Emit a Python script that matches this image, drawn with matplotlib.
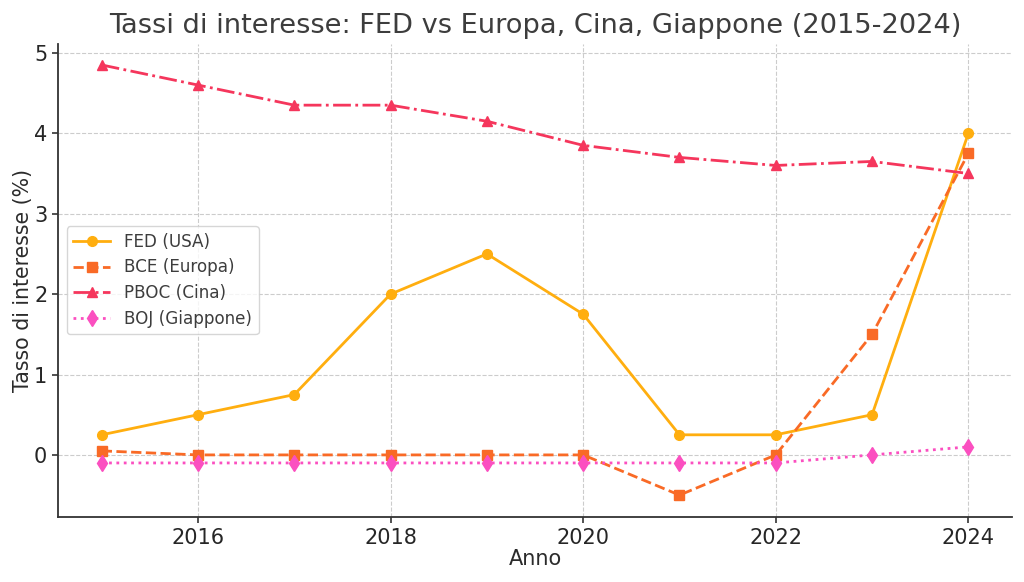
import matplotlib
matplotlib.use("Agg")
import matplotlib.pyplot as plt

anni = [2015, 2016, 2017, 2018, 2019, 2020, 2021, 2022, 2023, 2024]
fed = [0.25, 0.5, 0.75, 2.0, 2.5, 1.75, 0.25, 0.25, 0.5, 4.0]
bce = [0.05, 0, 0, 0, 0, 0, -0.5, 0, 1.5, 3.75]
pboc = [4.85, 4.6, 4.35, 4.35, 4.15, 3.85, 3.7, 3.6, 3.65, 3.5]
boj = [-0.1, -0.1, -0.1, -0.1, -0.1, -0.1, -0.1, -0.1, 0, 0.1]

text_col = "#3d3d3d"
axis_col = "#333333"

fig, ax = plt.subplots(figsize=(10.24, 5.82), dpi=100)

ax.plot(anni, fed, label="FED (USA)", color="#ffae0f", marker="o", markersize=7, linestyle="-", linewidth=2)
ax.plot(anni, bce, label="BCE (Europa)", color="#f96a26", marker="s", markersize=7, linestyle="--", linewidth=2)
ax.plot(anni, pboc, label="PBOC (Cina)", color="#f5365c", marker="^", markersize=7, linestyle="-.", linewidth=2)
ax.plot(anni, boj, label="BOJ (Giappone)", color="#fb4fc0", marker="d", markersize=8, linestyle=":", linewidth=2)

ax.set_title("Tassi di interesse: FED vs Europa, Cina, Giappone (2015-2024)", fontsize=19.6, color=text_col, pad=7.5)
ax.set_xlabel("Anno", fontsize=15, color="#2b2b2b", labelpad=0.5)
ax.set_ylabel("Tasso di interesse (%)", fontsize=14.8, color="#2b2b2b", labelpad=0.5)
ax.tick_params(labelsize=15, labelcolor="#262626", color=axis_col, length=4, width=1.2, pad=4)
ax.set_yticks([0, 1, 2, 3, 4, 5])
ax.set_xticks([2016, 2018, 2020, 2022, 2024])
ax.grid(True, linestyle="--", color="#cccccc", linewidth=0.8)
ax.spines["top"].set_visible(False)
ax.spines["right"].set_visible(False)
ax.spines["left"].set_color(axis_col)
ax.spines["bottom"].set_color(axis_col)
ax.spines["left"].set_linewidth(1.3)
ax.spines["bottom"].set_linewidth(1.3)
ax.set_xlim(2014.55, 2024.45)
ax.set_ylim(-0.77, 5.115)
ax.legend(loc="center left", fontsize=12.1, labelcolor=text_col, bbox_to_anchor=(0, 0.5),
          labelspacing=0.45, handlelength=2.2)

fig.subplots_adjust(left=0.057, right=0.988, top=0.925, bottom=0.112)
fig.savefig("out.png", dpi=100)
plt.close(fig)
